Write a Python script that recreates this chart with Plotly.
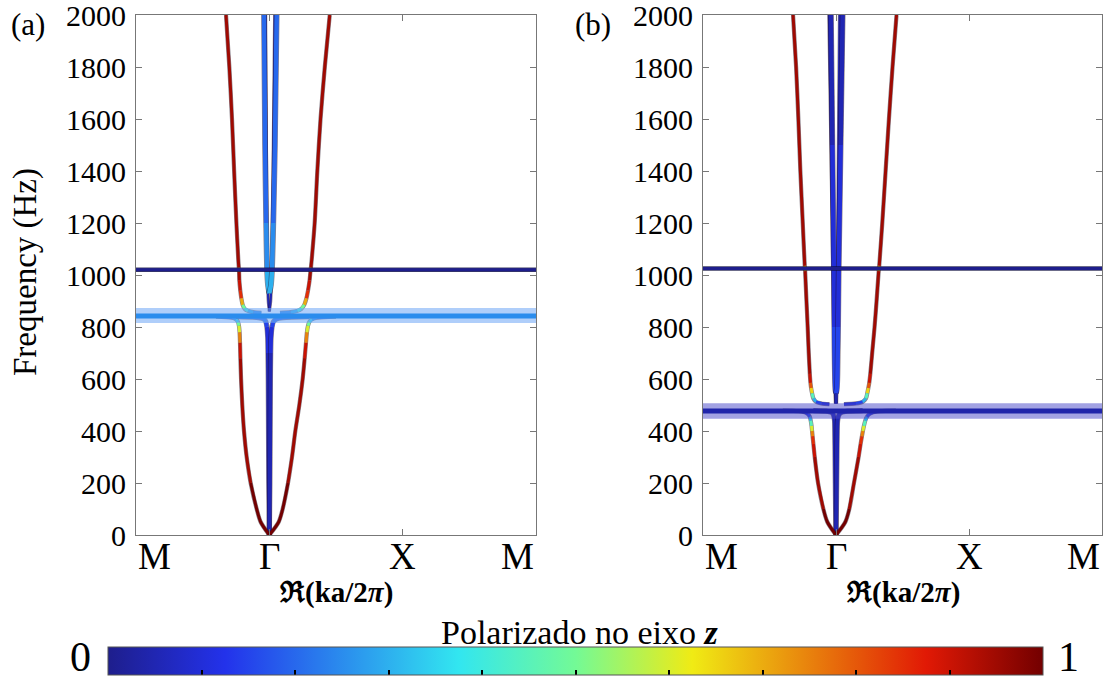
import numpy as np
import plotly.graph_objects as go

# ---------------- data ----------------
TICK_POS = [0, 1, 2, 3]
TICK_TEXT = ["M", "Γ", "X", "M"]
GAMMA = 1.0
Y_TICKS = list(range(0, 2001, 200))
CB_TICKS = [0.1, 0.2, 0.3, 0.4, 0.5, 0.6, 0.7, 0.8, 0.9]

# offsets from Γ in path units: *_KR toward X, *_KL toward M
# ---- Panel (a)
FLAT_A = 1020
FLAT_A_P = 0.0
BAND_A_LOW, BAND_A_MID, BAND_A_HIGH = 815, 842, 873
BAND_A_P = 0.25

LOW_A_F = [0, 50, 100, 200, 300, 400, 500, 600, 680, 740, 780, 805, 820, 830, 836, 840]
LOW_A_KR = [0, 0.07, 0.10, 0.14, 0.17, 0.195, 0.225, 0.25, 0.265, 0.275, 0.282, 0.29, 0.30, 0.32, 0.36, 0.50]
LOW_A_KL = [0, 0.065, 0.095, 0.14, 0.17, 0.19, 0.203, 0.212, 0.217, 0.22, 0.223, 0.228, 0.235, 0.25, 0.28, 0.40]
LOW_A_P = [0.98, 0.98, 0.98, 0.97, 0.97, 0.97, 0.96, 0.95, 0.92, 0.85, 0.7, 0.55, 0.4, 0.3, 0.22, 0.22]

UP_A_F = [2000, 1800, 1600, 1400, 1200, 1060, 1028, 1020, 1012, 980, 940, 910, 885, 870, 862, 857, 854]
UP_A_KR = [0.453, 0.416, 0.384, 0.36, 0.34, 0.318, 0.312, 0.31, 0.308, 0.302, 0.29, 0.278, 0.262, 0.24, 0.21, 0.16, 0.08]
UP_A_KL = [0.325, 0.30, 0.28, 0.264, 0.247, 0.233, 0.229, 0.228, 0.227, 0.225, 0.218, 0.21, 0.2, 0.185, 0.16, 0.12, 0.06]
UP_A_P = [0.97, 0.97, 0.97, 0.97, 0.97, 0.96, 0.95, 0.4, 0.94, 0.93, 0.9, 0.78, 0.6, 0.45, 0.32, 0.25, 0.22]

G_A_F = [0, 200, 400, 600, 700, 760, 800, 820, 830, 836, 840]
G_A_KR = [0, 0.004, 0.006, 0.008, 0.01, 0.013, 0.02, 0.03, 0.05, 0.1, 0.3]
G_A_KL = [0, 0.004, 0.006, 0.008, 0.01, 0.012, 0.018, 0.026, 0.04, 0.08, 0.25]
G_A_P = [0.05, 0.05, 0.05, 0.06, 0.07, 0.1, 0.14, 0.18, 0.2, 0.22, 0.22]

U_A_F = [930, 960, 1020, 1200, 1500, 2000]
U_A_KR = [0, 0.012, 0.02, 0.03, 0.042, 0.055]
U_A_KL = [0, 0.01, 0.017, 0.024, 0.032, 0.04]
U_A_P = [0.32, 0.3, 0.27, 0.22, 0.19, 0.17]

V_A_F = [860, 900, 1000, 1500, 2000]
V_A_KR = [0, 0.01, 0.017, 0.03, 0.04]
V_A_KL = [0, 0.008, 0.014, 0.022, 0.028]
V_A_P = [0.05, 0.05, 0.05, 0.06, 0.08]

# ---- Panel (b)
FLAT_B = 1025
FLAT_B_P = 0.0
BAND_B_LOW, BAND_B_MID, BAND_B_HIGH = 447, 477, 507
BAND_B_P = 0.04

LOW_B_F = [0, 50, 100, 200, 300, 350, 380, 400, 420, 440, 455, 465, 472, 476, 478]
LOW_B_KR = [0, 0.07, 0.10, 0.135, 0.17, 0.185, 0.195, 0.202, 0.21, 0.22, 0.233, 0.25, 0.28, 0.33, 0.45]
LOW_B_KL = [0, 0.065, 0.095, 0.135, 0.16, 0.17, 0.176, 0.18, 0.184, 0.19, 0.197, 0.21, 0.235, 0.28, 0.40]
LOW_B_P = [0.98, 0.98, 0.97, 0.97, 0.95, 0.9, 0.8, 0.68, 0.5, 0.38, 0.22, 0.12, 0.08, 0.06, 0.06]

UP_B_F = [2000, 1800, 1600, 1400, 1200, 1035, 1025, 1015, 900, 800, 700, 620, 585, 565, 545, 525, 512, 506, 503]
UP_B_KR = [0.455, 0.425, 0.398, 0.373, 0.348, 0.325, 0.323, 0.321, 0.305, 0.29, 0.272, 0.258, 0.25, 0.243, 0.235, 0.225, 0.2, 0.15, 0.06]
UP_B_KL = [0.323, 0.30, 0.283, 0.268, 0.25, 0.235, 0.233, 0.232, 0.222, 0.213, 0.205, 0.197, 0.192, 0.187, 0.18, 0.17, 0.15, 0.11, 0.05]
UP_B_P = [0.97, 0.97, 0.97, 0.97, 0.97, 0.96, 0.4, 0.96, 0.96, 0.96, 0.95, 0.92, 0.86, 0.72, 0.55, 0.38, 0.2, 0.1, 0.07]

G_B_F = [0, 100, 200, 300, 400, 440, 460, 470, 475, 478]
G_B_KR = [0, 0.003, 0.005, 0.007, 0.009, 0.012, 0.02, 0.035, 0.07, 0.2]
G_B_KL = [0, 0.003, 0.005, 0.007, 0.009, 0.011, 0.018, 0.03, 0.06, 0.17]
G_B_P = [0.06, 0.06, 0.06, 0.06, 0.06, 0.06, 0.05, 0.05, 0.05, 0.05]

U_B_F = [545, 560, 600, 700, 800, 1000, 1200, 1500, 2000]
U_B_KR = [0, 0.006, 0.01, 0.013, 0.016, 0.02, 0.026, 0.035, 0.05]
U_B_KL = [0, 0.005, 0.008, 0.011, 0.013, 0.016, 0.02, 0.027, 0.038]
U_B_P = [0.17, 0.17, 0.16, 0.15, 0.14, 0.1, 0.08, 0.07, 0.06]

V_B_F = [505, 600, 1000, 1500, 2000]
V_B_KR = [0, 0.006, 0.014, 0.022, 0.03]
V_B_KL = [0, 0.008, 0.02, 0.035, 0.05]
V_B_P = [0.05, 0.05, 0.05, 0.05, 0.05]

# colour map (jet-like, as in the reference colour bar)
JET_POS = [0.0, 0.125, 0.375, 0.5, 0.625, 0.875, 1.0]
JET_RGB = [(30, 30, 140), (35, 50, 235), (50, 230, 240), (115, 250, 150),
           (240, 235, 20), (225, 25, 5), (115, 0, 0)]

FONT = "Liberation Serif, Times New Roman, serif"

# page geometry (the page body margin is removed by the post script below)
PAGE_W, PAGE_H = 1106, 682


def px(x):
    return x / PAGE_W


def py(y):
    return (PAGE_H - y) / PAGE_H


def jet(v):
    v = min(max(v, 0.0), 1.0)
    r = np.interp(v, JET_POS, [c[0] for c in JET_RGB])
    g = np.interp(v, JET_POS, [c[1] for c in JET_RGB])
    b = np.interp(v, JET_POS, [c[2] for c in JET_RGB])
    return f"rgb({int(r)},{int(g)},{int(b)})"


COLORSCALE = [[p, f"rgb{c}"] for p, c in zip(JET_POS, JET_RGB)]

fig = go.Figure()


def add_branch(xa, ya, kl, kr, f, p, width):
    for side, k in (("L", kl), ("R", kr)):
        xs = [GAMMA + kk if side == "R" else GAMMA - kk for kk in k]
        # dark rim underneath the coloured line
        fig.add_trace(go.Scatter(x=xs, y=f, mode="lines", xaxis=xa, yaxis=ya,
                                 line=dict(color="rgba(25,0,20,0.5)", width=width + 1.2,
                                           shape="spline", smoothing=0.8),
                                 hoverinfo="skip", showlegend=False))
        cur_c, cx, cy = None, [], []
        groups = []
        for j in range(len(xs) - 1):
            v = round(((p[j] + p[j + 1]) / 2) * 20) / 20
            c = jet(v)
            if c != cur_c:
                if cx:
                    groups.append((cur_c, cx, cy))
                cur_c, cx, cy = c, [xs[j]], [f[j]]
            cx.append(xs[j + 1])
            cy.append(f[j + 1])
        if cx:
            groups.append((cur_c, cx, cy))
        for c, gx, gy in groups:
            fig.add_trace(go.Scatter(x=gx, y=gy, mode="lines", xaxis=xa, yaxis=ya,
                                     line=dict(color=c, width=width, shape="spline", smoothing=0.8),
                                     hoverinfo="skip", showlegend=False))


def add_band(xa, ya, low, mid, high, pc, fillcol):
    x0, x1 = TICK_POS[0], TICK_POS[-1]
    fig.add_trace(go.Scatter(x=[x0, x1, x1, x0, x0], y=[low, low, high, high, low],
                             fill="toself", fillcolor=fillcol, mode="lines",
                             line=dict(width=0), xaxis=xa, yaxis=ya,
                             hoverinfo="skip", showlegend=False))
    fig.add_trace(go.Scatter(x=[x0, x1], y=[mid, mid], mode="lines", xaxis=xa, yaxis=ya,
                             line=dict(color=jet(pc), width=5),
                             hoverinfo="skip", showlegend=False))


def add_flat(xa, ya, val, pc):
    fig.add_trace(go.Scatter(x=TICK_POS, y=[val] * len(TICK_POS), mode="lines",
                             xaxis=xa, yaxis=ya, line=dict(color="rgba(10,10,60,0.8)", width=4.5),
                             hoverinfo="skip", showlegend=False))
    fig.add_trace(go.Scatter(x=TICK_POS, y=[val] * len(TICK_POS), mode="lines",
                             xaxis=xa, yaxis=ya, line=dict(color=jet(pc), width=3),
                             hoverinfo="skip", showlegend=False))


# panel (a)
add_branch("x", "y", G_A_KL, G_A_KR, G_A_F, G_A_P, 4)
add_branch("x", "y", V_A_KL, V_A_KR, V_A_F, V_A_P, 2)
add_branch("x", "y", U_A_KL, U_A_KR, U_A_F, U_A_P, 4.5)
add_branch("x", "y", LOW_A_KL, LOW_A_KR, LOW_A_F, LOW_A_P, 3)
add_branch("x", "y", UP_A_KL, UP_A_KR, UP_A_F, UP_A_P, 3)
add_band("x", "y", BAND_A_LOW, BAND_A_MID, BAND_A_HIGH, BAND_A_P, "rgba(110,165,245,0.55)")
add_flat("x", "y", FLAT_A, FLAT_A_P)

# panel (b)
add_branch("x2", "y2", G_B_KL, G_B_KR, G_B_F, G_B_P, 4)
add_branch("x2", "y2", V_B_KL, V_B_KR, V_B_F, V_B_P, 3)
add_branch("x2", "y2", U_B_KL, U_B_KR, U_B_F, U_B_P, 4.5)
add_branch("x2", "y2", LOW_B_KL, LOW_B_KR, LOW_B_F, LOW_B_P, 3)
add_branch("x2", "y2", UP_B_KL, UP_B_KR, UP_B_F, UP_B_P, 3)
add_band("x2", "y2", BAND_B_LOW, BAND_B_MID, BAND_B_HIGH, BAND_B_P, "rgba(70,70,200,0.5)")
add_flat("x2", "y2", FLAT_B, FLAT_B_P)

# colour bar carrier
CB_L, CB_R, CB_TOP, CB_BOT = 108, 1043, 653, 681
fig.add_trace(go.Scatter(
    x=[None], y=[None], mode="markers", xaxis="x", yaxis="y", showlegend=False,
    marker=dict(color=[0.5], cmin=0, cmax=1, colorscale=COLORSCALE, showscale=True,
                colorbar=dict(orientation="h", x=px((CB_L + CB_R) / 2), xanchor="center",
                              y=py(CB_BOT), yanchor="bottom", len=(CB_R - CB_L) / PAGE_W,
                              lenmode="fraction", thickness=CB_BOT - CB_TOP, xpad=0, ypad=0,
                              outlinewidth=1, outlinecolor="#555",
                              tickvals=CB_TICKS, ticks="inside", ticklen=5,
                              tickwidth=1.5, tickcolor="black", showticklabels=False))))

# tick marks on the upper edge of the colour bar
shapes = []
for v in CB_TICKS:
    xv = px(CB_L + v * (CB_R - CB_L))
    shapes.append(dict(type="line", xref="paper", yref="paper", x0=xv, x1=xv,
                       y0=py(CB_TOP), y1=py(CB_TOP + 5), line=dict(color="black", width=1.5)))

axis_common = dict(showline=True, mirror="ticks", linecolor="#777", linewidth=1,
                   ticks="inside", ticklen=6, tickcolor="#777", showgrid=False,
                   zeroline=False, automargin=False)

xdom_a = [px(136), px(536)]
xdom_b = [px(703), px(1102)]
ydom = [py(535), py(15)]
yfont = dict(family=FONT, color="black", size=30)

fig.update_layout(
    width=PAGE_W, height=PAGE_H, margin=dict(l=0, r=0, t=0, b=0, autoexpand=False),
    font=dict(family=FONT, color="black"),
    paper_bgcolor="white", plot_bgcolor="white", showlegend=False, shapes=shapes,
    xaxis=dict(domain=xdom_a, range=[TICK_POS[0], TICK_POS[-1]], tickvals=TICK_POS,
               showticklabels=False, anchor="y", **axis_common),
    yaxis=dict(domain=ydom, range=[0, 2000], tickvals=Y_TICKS, anchor="x",
               tickfont=yfont, ticklabelstandoff=3, ticklabeloverflow="allow", **axis_common),
    xaxis2=dict(domain=xdom_b, range=[TICK_POS[0], TICK_POS[-1]], tickvals=TICK_POS,
                showticklabels=False, anchor="y2", **axis_common),
    yaxis2=dict(domain=ydom, range=[0, 2000], tickvals=Y_TICKS, anchor="x2",
                tickfont=yfont, ticklabelstandoff=3, ticklabeloverflow="allow", **axis_common),
)

ann = []
# x tick labels (end labels kept inside the frame, as in the reference)
for xr in ("x", "x2"):
    for i, (tp, tt) in enumerate(zip(TICK_POS, TICK_TEXT)):
        anchor = "left" if i == 0 else ("right" if i == len(TICK_POS) - 1 else "center")
        ann.append(dict(text=tt, x=tp, xref=xr, y=py(556), yref="paper", xanchor=anchor,
                        yanchor="middle", showarrow=False,
                        font=dict(family=FONT, size=37, color="black")))
extra = []
extra.append(dict(text="Frequency (Hz)", x=px(25), y=py(272), textangle=-90,
                  font=dict(family=FONT, size=33, color="black")))
for cx in (336, 903):
    extra.append(dict(text="<b>ℜ(ka/2<i>π</i>)</b>", x=px(cx), y=py(592),
                      font=dict(family=FONT, size=29, color="black")))
extra.append(dict(text="(a)", x=px(28), y=py(25), font=dict(family=FONT, size=31, color="black")))
extra.append(dict(text="(b)", x=px(593), y=py(25), font=dict(family=FONT, size=31, color="black")))
extra.append(dict(text="Polarizado no eixo <b><i>z</i></b>", x=px(579), y=py(632),
                  font=dict(family=FONT, size=34, color="black")))
for a in extra:
    a.update(xref="paper", yref="paper", showarrow=False, xanchor="center", yanchor="middle")
for txt, cx in (("0", 80), ("1", 1068)):
    extra.append(dict(text=txt, x=px(cx), y=0, xref="paper", yref="paper", showarrow=False,
                      xanchor="center", yanchor="bottom",
                      font=dict(family=FONT, size=42, color="black")))
fig.update_layout(annotations=ann + extra)

fig.write_html("out.html", config={"displayModeBar": False},
               post_script="document.body.style.margin='0px';")
